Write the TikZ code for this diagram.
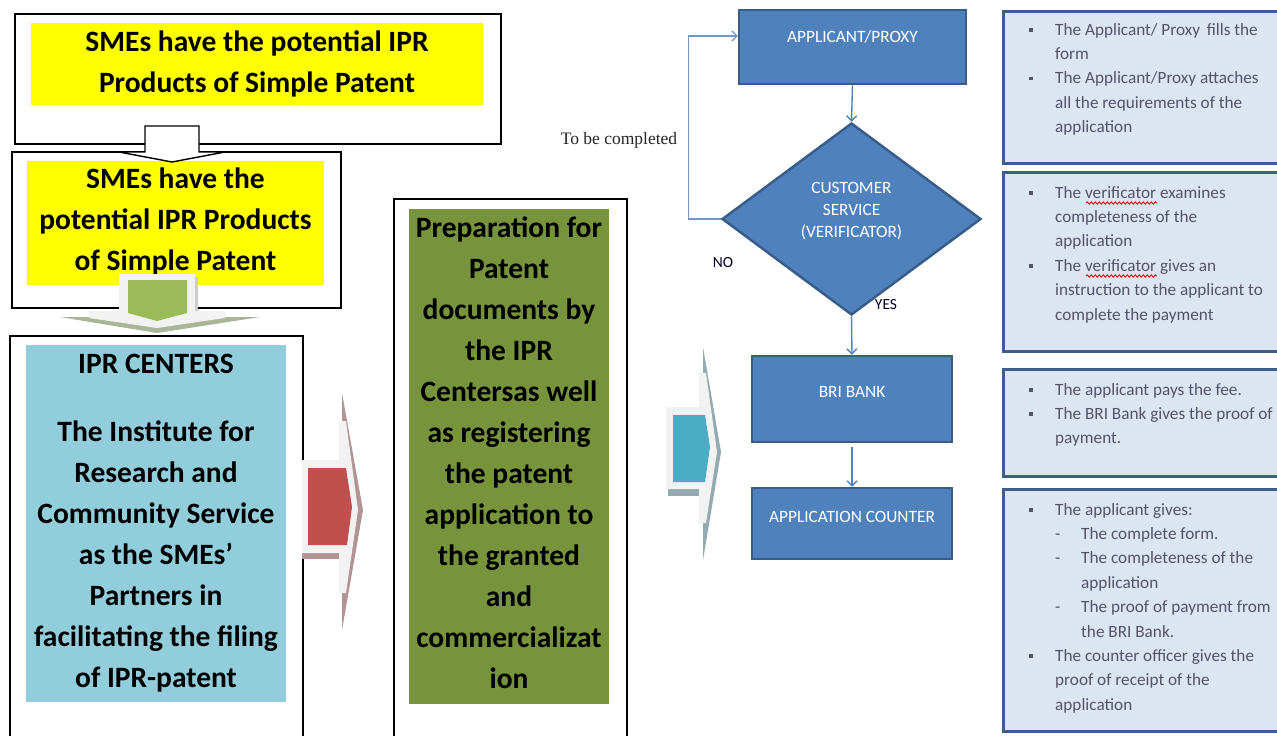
\documentclass[tikz,border=0pt]{standalone}
\usepackage{fontspec}
\setmainfont{Carlito}
\newfontfamily\serifft{Liberation Serif}
\usetikzlibrary{shapes.geometric,arrows.meta,decorations.pathmorphing,calc}
\definecolor{yel}{HTML}{FFFF00}
\definecolor{cyanbox}{HTML}{92CDDC}
\definecolor{greenbox}{HTML}{77933C}
\definecolor{flowfill}{HTML}{4F81BD}
\definecolor{flowborder}{HTML}{385D8A}
\definecolor{arrowblue}{HTML}{4F81BD}
\definecolor{looparrow}{HTML}{6F97C9}
\definecolor{notefill}{HTML}{DCE6F2}
\definecolor{noteborder}{HTML}{3B5E8C}
\definecolor{notegray}{HTML}{55536A}
\definecolor{lightface}{HTML}{F2F2F2}
\definecolor{greenshadow}{HTML}{A9B596}
\definecolor{greenfill}{HTML}{9BBB59}
\definecolor{redshadow}{HTML}{B39494}
\definecolor{redfill}{HTML}{C0504D}
\definecolor{tealshadow}{HTML}{93AAB0}
\definecolor{tealfill}{HTML}{4BACC6}
\newcommand\sqbul{\makebox[26pt][l]{\raisebox{3.5pt}{\rule{3.8pt}{3.8pt}}}}
\newcommand\dashit{\hspace*{26pt}\makebox[26pt][l]{-}}
\newcommand\indA{\hspace*{26pt}}
\newcommand\indB{\hspace*{52pt}}
\begin{document}
\begin{tikzpicture}[x=1pt,y=-1pt,
  blackbox/.style={draw=black, line width=1.6pt, fill=white, inner sep=0, anchor=north west},
  fillbox/.style={inner sep=0, draw=none, anchor=north west},
  bigtxt/.style={font=\fontsize{29.5}{41}\selectfont\bfseries, align=center, inner sep=0, anchor=north, text=black},
  flowbox/.style={draw=flowborder, line width=2.5pt, fill=flowfill, inner sep=0},
  flowtxt/.style={text=white, font=\fontsize{17.3}{22}\selectfont, inner sep=0, align=center},
  flowarrow/.style={draw=arrowblue, line width=1.4pt, -{Straight Barb[length=5pt,width=10pt]}},
  notebox/.style={draw=noteborder, line width=2.5pt, fill=notefill, inner sep=0, anchor=north west},
  notetxt/.style={font=\fontsize{17.2}{24.4}\selectfont, text=notegray, align=left, inner sep=0, anchor=north west},
  smalllbl/.style={font=\fontsize{15.5}{17}\selectfont, text=black!85!blue, inner sep=0},
  squiggle/.style={draw=red!85!black, line width=0.8pt, decorate, decoration={snake, amplitude=1.2pt, segment length=4pt}}
]
\useasboundingbox (0,0) rectangle (1277,736);
\clip (0,0) rectangle (1277,736);
\fill[white] (0,0) rectangle (1277,736);

% ---------- left column ----------
\node[blackbox, minimum width=486pt, minimum height=130pt] (topbox) at (14,13) {};
\node[fillbox, fill=yel, minimum width=452pt, minimum height=82pt] (yel1) at (31,23) {};
\node[bigtxt] (t1) at (257,22.3) {\strut SMEs have the potential IPR\\Products of Simple Patent};

\node[blackbox, minimum width=329pt, minimum height=156pt] (box2) at (11,151) {};
\node[fillbox, fill=yel, minimum width=297pt, minimum height=124pt] (yel2) at (27,161) {};
\node[bigtxt] (t2) at (175.5,159.3) {\strut SMEs have the\\potential IPR Products\\of Simple Patent};

% white block arrow
\path[draw=black, fill=white, line width=1.4pt, line join=miter]
  (145,126) -- (199,126) -- (199,152) -- (225,152) -- (172,162) -- (119,152) -- (145,152) -- cycle;

\node[blackbox, minimum width=293pt, minimum height=420pt] (box3) at (9,335) {};
\node[fillbox, fill=cyanbox, minimum width=260pt, minimum height=357pt] (cyan) at (26,345) {};
\node[bigtxt] (t3) at (156,344.3) {\strut IPR CENTERS\\[27pt]The Institute for\\Research and\\Community Service\\as the SMEs'\\Partners in\\facilitating the filing\\of IPR-patent};

% green block arrow
\fill[greenshadow] (60,317) -- (260,317) -- (157,333) -- cycle;
\fill[black!20] (195,277) rectangle (198,311);
\fill[lightface] (89,311) -- (119,311) -- (119,274) -- (195,274) -- (195,311) -- (225,311) -- (225,318) -- (157,328) -- (89,318) -- cycle;
\fill[greenfill] (128,280) -- (187,280) -- (187,313) -- (157,321) -- (128,313) -- cycle;

% middle green column
\node[blackbox, minimum width=233pt, minimum height=560pt] (box4) at (393,198) {};
\node[fillbox, fill=greenbox, minimum width=200pt, minimum height=495pt] (greenp) at (409,209) {};
\node[bigtxt] (t4) at (509,208.3) {\strut Preparation for\\Patent\\documents by\\the IPR\\Centersas well\\as registering\\the patent\\application to\\the granted\\and\\commercializat\\ion};

% red block arrow
\fill[redshadow] (342,393) -- (363,510) -- (342,630) -- cycle;
\fill[redshadow] (302,553) rectangle (339,559);
\fill[lightface] (302,460) -- (339,460) -- (339,421) -- (346,421) -- (358,510) -- (346,593) -- (339,593) -- (339,553) -- (302,553) -- cycle;
\fill[redfill] (308,468) -- (346,468) -- (352,507) -- (347,545) -- (308,545) -- cycle;

% teal block arrow
\fill[tealshadow] (703,347) -- (721,452) -- (703,560) -- cycle;
\fill[tealshadow] (668,489) rectangle (699,496);
\fill[lightface] (666,407) -- (699,407) -- (699,373) -- (706,373) -- (717,452) -- (706,523) -- (699,523) -- (699,489) -- (666,489) -- cycle;
\fill[tealfill] (673,415) -- (705,415) -- (710,447) -- (705,482) -- (673,482) -- cycle;

% ---------- flowchart ----------
\node[flowbox, minimum width=227pt, minimum height=74pt,
  label={[flowtxt, yshift=10pt]center:APPLICANT/PROXY}] (app) at (852.5,47) {};
\node[flowbox, diamond, minimum width=259pt, minimum height=192pt,
  label={[flowtxt, yshift=8pt]center:{CUSTOMER\\SERVICE\\(VERIFICATOR)}}] (cs) at (851.5,219) {};
\node[flowbox, minimum width=200pt, minimum height=86pt,
  label={[flowtxt, yshift=7pt]center:BRI BANK}] (bri) at (852,399) {};
\node[flowbox, minimum width=200pt, minimum height=71pt,
  label={[flowtxt, yshift=7pt]center:APPLICATION COUNTER}] (ac) at (852,523.5) {};

\draw[flowarrow] (app.south) -- (cs.north);
\draw[flowarrow] (cs.south) -- (bri.north);
\draw[flowarrow] ([yshift=-4pt]bri.south) -- (ac.north);
\draw[flowarrow, draw=looparrow, line width=1.2pt] (cs.west) -- ++(-32,0) |- ([yshift=11pt]app.west);

\node[font=\serifft\fontsize{17.5}{19}\selectfont, text=black!85, inner sep=0] (tbc) at (619,140) {To be completed};
\node[smalllbl] (no) at (723,263) {NO};
\node[smalllbl] (yes) at (886,305) {YES};

% ---------- notes ----------
\node[notebox, minimum width=290pt, minimum height=152pt] (n1) at (1002,10) {};
\node[notetxt] (n1t) at (1029,17.9) {\strut\sqbul The Applicant/ Proxy\, fills the\\
\indA form\\
\sqbul The Applicant/Proxy attaches\\
\indA all the requirements of the\\
\indA application};

\node[notebox, minimum width=290pt, minimum height=179pt] (n2) at (1002,171) {};
\node[notetxt] (n2t) at (1029,180.9) {\strut\sqbul The verificator examines\\
\indA completeness of the\\
\indA application\\
\sqbul The verificator gives an\\
\indA instruction to the applicant to\\
\indA complete the payment};
\draw[squiggle] (1086,203) -- (1157,203);
\draw[squiggle] (1086,276) -- (1157,276);

\node[notebox, minimum width=290pt, minimum height=107pt] (n3) at (1002,368) {};
\node[notetxt] (n3t) at (1029,377.9) {\strut\sqbul The applicant pays the fee.\\
\sqbul The BRI Bank gives the proof of\\
\indA payment.};

\node[notebox, minimum width=290pt, minimum height=242pt] (n4) at (1002,488) {};
\node[notetxt] (n4t) at (1029,497.9) {\strut\sqbul The applicant gives:\\
\dashit The complete form.\\
\dashit The completeness of the\\
\indB application\\
\dashit The proof of payment from\\
\indB the BRI Bank.\\
\sqbul The counter officer gives the\\
\indA proof of receipt of the\\
\indA application};
\end{tikzpicture}
\end{document}
